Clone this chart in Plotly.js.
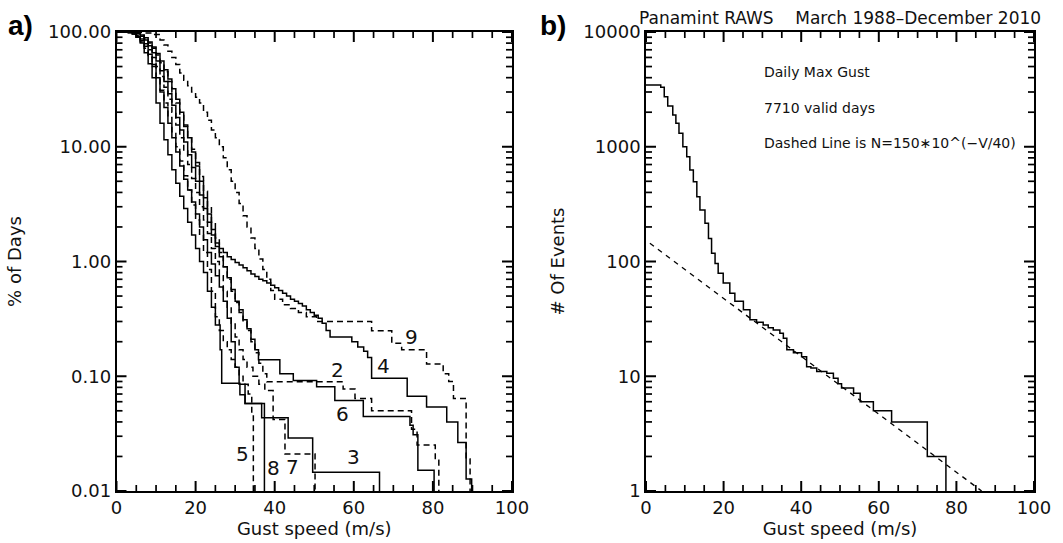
<!DOCTYPE html>
<html><head><meta charset="utf-8">
<script src="https://cdn.plot.ly/plotly-3.0.1.min.js"></script>
<style>html,body{margin:0;padding:0;background:#fff;}#plot{width:1063px;height:543px;}</style>
</head><body><div id="plot"></div>
<script>
// ---- Panel a) : % of days with daily max gust exceeding speed, per station ----
const speed2 = [0,4,5,6,7,8,9,10,11,12,13,14,15,16,17,18,19,20,21,22,23,24,25,26,27,28,29,30,31,32,33,34,35,36,37,38,57.3,60.3,64.5,74.6,76,80.6,81.5];
const pct2   = [100,99,97,93,87,80,72,63,54,45,37,30,24,19,15,12,9.5,7.3,5.5,4.1,3.0,2.2,1.6,1.2,0.9,0.7,0.55,0.44,0.36,0.3,0.25,0.2,0.16,0.13,0.105,0.0895,0.0774,0.064,0.05,0.0345,0.0252,0.0185,0.01];
const speed3 = [0,3,4,5,6,7,8,9,10,11,12,13,14,15,16,17,18,19,20,21,22,23,24,25,26,27,28,29,30,31,32.5,36.7,43.4,49.6,66.5];
const pct3   = [100,99,96,91,84,75,64,52,40,30,22,16,12,9,6.8,5.2,4.2,3.3,2.6,2.0,1.55,1.2,0.95,0.75,0.6,0.45,0.32,0.2,0.12,0.085,0.058,0.0435,0.029,0.0146,0.01];
const speed4 = [0,4,5,6,7,8,9,10,11,12,13,14,15,16,17,18,19,20,21,22,23,24,25,26,27,28,29,30,31,32,33,34,35,36,37,38,39,40,41,42,43,44,45,46,47,48,49,50,51,52,53,54,59.5,61,62.5,63.5,64.5,73.5,78.4,83.5,86.3,88.4,89.8];
const pct4   = [100,99,97,94,89,82,74,65,56,47,39,32,26,20,15.5,12,9,6.8,5,3.6,2.6,1.9,1.45,1.3,1.2,1.1,1.04,0.98,0.93,0.88,0.83,0.78,0.74,0.7,0.68,0.65,0.62,0.59,0.56,0.53,0.5,0.47,0.45,0.43,0.41,0.38,0.36,0.34,0.32,0.29,0.25,0.22,0.2,0.18,0.165,0.146,0.096,0.067,0.054,0.04,0.0265,0.0127,0.01];
const speed5 = [0,3,4,5,6,7,8,9,10,11,12,13,14,15,16,17,18,19,20,21,22,23,24,25,26,27,28,29,30,31,32,33.3,34.2,34.6];
const pct5   = [100,99,96,90,82,72,61,50,40,31,24,18,13.5,10,7.5,5.6,4.2,3.1,2.3,1.7,1.2,0.85,0.55,0.33,0.25,0.2,0.17,0.14,0.12,0.1,0.085,0.07,0.047,0.01];
const speed6 = [0,4,5,6,7,8,9,10,11,12,13,14,15,16,17,18,19,20,21,22,23,24,25,26,27,28,29,30,31,32,33,34,35,35.9,41.3,44.7,50.6,55.2,62.4,74.2,75,76.2,80.3];
const pct6   = [100,99,97,92,85,76,66,56,46,37,29,23,18,14,11,8.5,6.6,5,3.8,2.9,2.2,1.7,1.35,1.1,0.9,0.72,0.57,0.45,0.38,0.31,0.26,0.21,0.17,0.139,0.105,0.092,0.081,0.0616,0.0447,0.0374,0.0309,0.0152,0.01];
const speed7 = [0,3,4,5,6,7,8,9,10,11,12,13,14,15,16,17,18,19,20,21,22,23,24,25,26,27,28,29,30,31,32,33,34.5,36,37.5,39.6,42.6,50.2];
const pct7   = [100,99,97,93,87,79,70,60,50,41,33,26,20,15.5,12,9.2,7,5.3,4,3,2.3,1.75,1.3,1.0,0.75,0.55,0.4,0.29,0.22,0.17,0.14,0.12,0.1,0.085,0.075,0.042,0.021,0.01];
const speed8 = [0,3,4,5,6,7,8,9,10,11,12,13,14,15,16,17,18,19,20,21,22,23,24,25,26.2,26.6,31.2,32.5,37.4];
const pct8   = [100,99,96,90,80,66,53,40,24,16,11.5,8.5,6.3,4.8,3.7,2.9,2.2,1.7,1.3,1.0,0.8,0.55,0.4,0.28,0.17,0.087,0.069,0.058,0.01];
const speed9 = [0,5,7,9,11,12,13,14,15,16,17,18,19,20,21,22,23,24,25,26,27,28,29,30,31,32,33,34,35,36,37,38,39,40,42,44,46,48,50.6,64.5,69.6,72.1,78.4,82.6,84,85.2,88.4,89.4];
const pct9   = [100,99,98,95,85,77,68,60,52,44,38,34,30,27,24,20,17,14,12,10,8,6.3,5,4,3.2,2.5,2.0,1.6,1.3,1.05,0.85,0.7,0.56,0.47,0.42,0.39,0.36,0.33,0.3,0.249,0.194,0.17,0.128,0.105,0.09,0.064,0.019,0.01];

const stationNames = ['2','3','4','5','6','7','8','9'];
const stationSpeeds = [speed2,speed3,speed4,speed5,speed6,speed7,speed8,speed9];
const stationPcts   = [pct2,pct3,pct4,pct5,pct6,pct7,pct8,pct9];
const stationDashed = [true,false,false,true,false,true,false,true];

// ---- Panel b) : Panamint RAWS, number of events ----
const gustB   = [0,3.8,4.7,5.6,6.9,7.7,8.5,9.5,10.5,11.3,12.2,13.1,13.9,15.2,16.1,16.9,17.8,18.6,19.9,21.6,22.9,25.1,26.8,28.5,30.2,31.5,32.8,34.5,35.4,36.3,38,40.1,41.4,42.5,44,46.6,48.3,49.5,50.4,53.5,55.2,58.6,63.3,72.5,77.3];
const eventsB = [3450,3300,2730,2260,1890,1600,1310,1000,820,627,496,367,281,215,159,118,96,79,65,53,45,38,31,29.5,28,26.5,25.3,23.7,21.4,17,16,14.8,12.1,11.8,11,10.6,9.6,8.6,7.9,7.1,6,5,4,2,1];
const fitSpeed  = [1, 86.5];
const fitEvents = [144, 1.0];

const xTicks = [0,20,40,60,80,100];
const xMinor = [5,10,15,25,30,35,45,50,55,65,70,75,85,90,95];
const yTicksA = [0.01,0.1,1,10,100];
const yTextA  = ['0.01','0.10','1.00','10.00','100.00'];
const yTicksB = [1,10,100,1000,10000];
const yTextB  = ['1','10','100','1000','10000'];

const FONT = 'DejaVu Sans, Liberation Sans, sans-serif';
const INK = '#111';
const W = 1063, H = 543;
const yDom = [52/H, 511/H];
const xDomA = [116.5/W, 512/W];
const xDomB = [646/W, 1034/W];

function minorLog(lo, hi){
  const v=[];
  for(let e=lo;e<hi;e++) for(let m=2;m<=9;m++) v.push(m*Math.pow(10,e));
  return v;
}

const traces = [];
stationNames.forEach((n,i)=>{
  traces.push({
    x: stationSpeeds[i], y: stationPcts[i], type:'scatter', mode:'lines',
    name: 'Station '+n, xaxis:'x', yaxis:'y',
    line:{shape:'hv', color:'#000', width:1.5, dash: stationDashed[i] ? '6px,4px' : 'solid'}
  });
});
traces.push({x: gustB, y: eventsB, type:'scatter', mode:'lines', name:'Panamint RAWS',
  xaxis:'x2', yaxis:'y2', line:{shape:'hv', color:'#000', width:1.5}});
traces.push({x: fitSpeed, y: fitEvents, type:'scatter', mode:'lines', name:'N=150*10^(-V/40)',
  xaxis:'x2', yaxis:'y2', line:{color:'#000', width:1.3, dash:'5px,5px'}});

function xAxis(domain, anchor){
  return {domain, anchor, range:[0,100], tickmode:'array', tickvals:xTicks,
    ticks:'', showline:true, linewidth:1.8, linecolor:'#000', mirror:true,
    showgrid:false, zeroline:false,
    tickfont:{family:FONT, size:18, color:INK},
    title:{text:'Gust speed (m/s)', font:{family:FONT, size:18, color:INK}, standoff:4}};
}
function yAxis(domain, anchor, range, tv, tt, title, standoff){
  return {domain, anchor, type:'log', range, tickmode:'array', tickvals:tv, ticktext:tt,
    ticks:'', showline:true, linewidth:1.8, linecolor:'#000', mirror:true,
    showgrid:false, zeroline:false,
    tickfont:{family:FONT, size:18, color:INK},
    title:{text:title, font:{family:FONT, size:18, color:INK}, standoff}};
}

// tick marks on all four sides (IDL style), placed from the tick values
const shapes = [];
function tickLine(x0,y0,x1,y1,w){ shapes.push({type:'line', xref:'paper', yref:'paper', x0, y0, x1, y1, layer:'above', line:{color:'#000', width:w}}); }
function addXTicks(dom){
  const f = v => dom[0] + v/100*(dom[1]-dom[0]);
  xTicks.forEach(v=>{ tickLine(f(v), yDom[0], f(v), yDom[0]+10/H, 2); tickLine(f(v), yDom[1], f(v), yDom[1]-10/H, 2); });
  xMinor.forEach(v=>{ tickLine(f(v), yDom[0], f(v), yDom[0]+6/H, 1.7); tickLine(f(v), yDom[1], f(v), yDom[1]-6/H, 1.7); });
}
function addYTicks(dom, lo, hi, major){
  const f = v => yDom[0] + (Math.log10(v)-lo)/(hi-lo)*(yDom[1]-yDom[0]);
  major.forEach(v=>{ tickLine(dom[0], f(v), dom[0]+10/W, f(v), 2); tickLine(dom[1], f(v), dom[1]-10/W, f(v), 2); });
  minorLog(lo,hi).forEach(v=>{ tickLine(dom[0], f(v), dom[0]+6/W, f(v), 1.7); tickLine(dom[1], f(v), dom[1]-6/W, f(v), 1.7); });
}
addXTicks(xDomA); addXTicks(xDomB);
addYTicks(xDomA, -2, 2, yTicksA); addYTicks(xDomB, 0, 4, yTicksB);

const layout = {
  width:W, height:H, margin:{l:0,r:0,t:0,b:0}, showlegend:false,
  xaxis: xAxis(xDomA, 'y'),
  yaxis: yAxis(yDom, 'x', [-2,2], yTicksA, yTextA, '% of Days', 22),
  xaxis2: xAxis(xDomB, 'y2'),
  yaxis2: yAxis(yDom, 'x2', [0,4], yTicksB, yTextB, '# Of Events', 14),
  shapes,
  annotations: [
    {text:'<b>a)</b>', xref:'paper', yref:'paper', x:6/W, y:1-8/H, xanchor:'left', yanchor:'top', showarrow:false, font:{family:'Liberation Sans, Arial, sans-serif', size:28, color:'#000'}},
    {text:'<b>b)</b>', xref:'paper', yref:'paper', x:538/W, y:1-8/H, xanchor:'left', yanchor:'top', showarrow:false, font:{family:'Liberation Sans, Arial, sans-serif', size:28, color:'#000'}},
    {text:'Panamint RAWS    March 1988\u2013December 2010', xref:'paper', yref:'paper', x:840/W, y:1-18/H, xanchor:'center', yanchor:'middle', showarrow:false, font:{family:FONT, size:17, color:INK}},
    {text:'Daily Max Gust', xref:'paper', yref:'paper', x:762/W, y:1-72/H, xanchor:'left', yanchor:'middle', showarrow:false, font:{family:FONT, size:14, color:INK}},
    {text:'7710 valid days', xref:'paper', yref:'paper', x:762/W, y:1-108/H, xanchor:'left', yanchor:'middle', showarrow:false, font:{family:FONT, size:14, color:INK}},
    {text:'Dashed Line is N=150\u221710^(\u2212V/40)', xref:'paper', yref:'paper', x:762/W, y:1-143/H, xanchor:'left', yanchor:'middle', showarrow:false, font:{family:FONT, size:14, color:INK}},
    {text:'9', xref:'x', yref:'y', x:74.6, y:-0.655, showarrow:false, font:{family:FONT, size:20, color:INK}},
    {text:'4', xref:'x', yref:'y', x:67.4, y:-0.911, showarrow:false, font:{family:FONT, size:20, color:INK}},
    {text:'2', xref:'x', yref:'y', x:55.8, y:-0.946, showarrow:false, font:{family:FONT, size:20, color:INK}},
    {text:'6', xref:'x', yref:'y', x:57.2, y:-1.329, showarrow:false, font:{family:FONT, size:20, color:INK}},
    {text:'3', xref:'x', yref:'y', x:59.9, y:-1.701, showarrow:false, font:{family:FONT, size:20, color:INK}},
    {text:'5', xref:'x', yref:'y', x:31.9, y:-1.677, showarrow:false, font:{family:FONT, size:20, color:INK}},
    {text:'8', xref:'x', yref:'y', x:39.6, y:-1.802, showarrow:false, font:{family:FONT, size:20, color:INK}},
    {text:'7', xref:'x', yref:'y', x:44.5, y:-1.788, showarrow:false, font:{family:FONT, size:20, color:INK}}
  ]
};
Plotly.newPlot('plot', traces, layout, {staticPlot:true, displayModeBar:false});
</script></body></html>
